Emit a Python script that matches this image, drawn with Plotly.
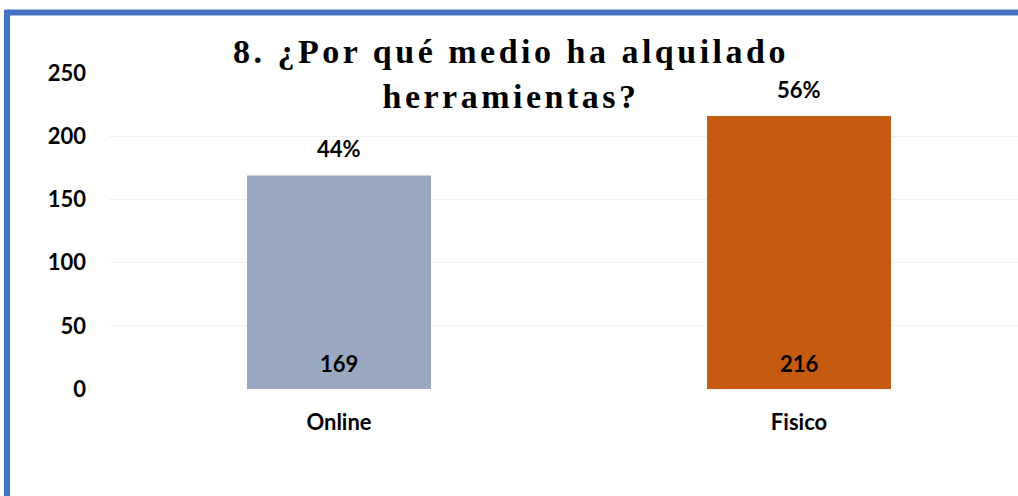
import plotly.graph_objects as go

categories = ["Online", "Fisico"]
values = [169, 216]
percent_labels = ["44%", "56%"]
bar_colors = ["#9AA9BF", "#C55A11"]
y_ticks = [0, 50, 100, 150, 200, 250]

label_font = dict(family="Lato", size=22, color="#000000", weight="bold")

fig = go.Figure()
fig.add_trace(go.Bar(
    x=categories, y=values, width=0.4,
    marker=dict(color=bar_colors, line=dict(width=0)),
    hoverinfo="skip",
))

for cat, v, p in zip(categories, values, percent_labels):
    fig.add_annotation(x=cat, y=v, text=p, showarrow=False, yanchor="bottom",
                       yshift=11, font=label_font)
    fig.add_annotation(x=cat, y=0, text=str(v), showarrow=False, yanchor="bottom",
                       yshift=10, font=label_font)

# blue frame (top and left edges)
fig.add_shape(type="line", xref="paper", yref="paper", x0=-0.1122, x1=1.2,
              y0=1.1915, y1=1.1915, line=dict(color="#4472C4", width=6))
fig.add_shape(type="line", xref="paper", yref="paper", x0=-0.1122, x1=-0.1122,
              y0=1.2, y1=-0.4, line=dict(color="#4472C4", width=6))

fig.update_layout(
    width=1018, height=496,
    margin=dict(l=109, r=0, t=73, b=107),
    paper_bgcolor="#FFFFFF", plot_bgcolor="#FFFFFF",
    showlegend=False,
    title=dict(
        text="8. ¿Por qué medio ha alquilado<br>herramientas?",
        x=0.502, xanchor="center", y=0.872, yanchor="top",
        font=dict(family="Liberation Serif", size=34, color="#000000", weight="bold"),
    ),
    xaxis=dict(range=[-0.5, 1.476], showgrid=False, zeroline=False, showline=False,
               ticks="", tickfont=label_font, ticklabelstandoff=18, fixedrange=True),
    yaxis=dict(range=[0, 250], tickvals=y_ticks, showgrid=True, gridcolor="#F2F2F2",
               gridwidth=1, zeroline=False, showline=False, ticks="",
               tickfont=label_font, ticklabelstandoff=22, fixedrange=True),
)

fig.write_html("out.html", config={"displayModeBar": False},
               post_script="document.querySelectorAll('.gtitle').forEach(function(e){e.style.letterSpacing='3.5px';});")
